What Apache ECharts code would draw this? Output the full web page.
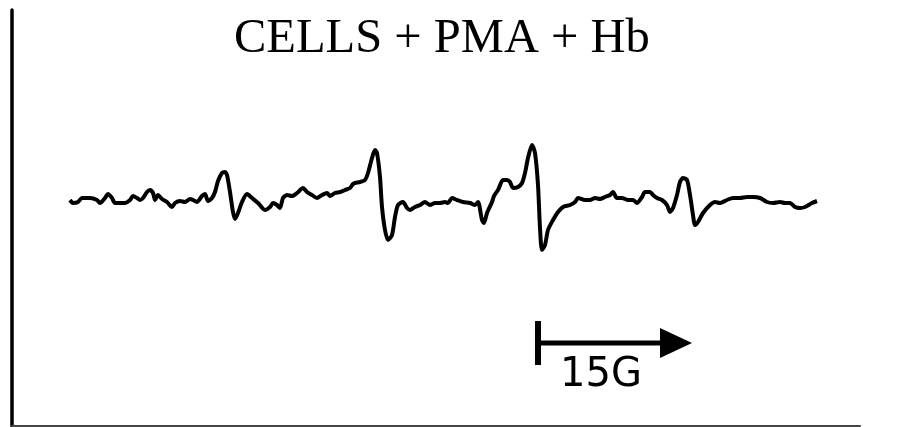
<!DOCTYPE html>
<html>
<head>
<meta charset="utf-8">
<script src="https://cdn.jsdelivr.net/npm/echarts@6/dist/echarts.min.js"></script>
<style>
  html, body { margin: 0; padding: 0; background: #fff; }
  #chart { width: 904px; height: 427px; }
</style>
</head>
<body>
<div id="chart"></div>
<script>
// EPR trace, field offset in gauss and signal in arbitrary units
const fieldG = [
  0, 0.3, 0.8, 1.2, 2.0, 2.7, 3.0, 3.5, 3.8, 4.2, 4.5, 5.0, 5.5, 6.0, 6.3, 6.7, 7.0, 7.3, 7.7, 8.0,
  8.3, 8.5, 8.8, 9.2, 9.7, 10.2, 10.5, 11.0, 11.5, 12.0, 12.3, 12.7, 13.2, 13.5, 13.8, 14.2, 14.5, 14.8, 15.2, 15.5,
  15.7, 16.0, 16.3, 16.5, 16.8, 17.2, 17.7, 18.2, 18.8, 19.5, 20.0, 20.3, 20.7, 21.0, 21.3, 21.7, 22.2, 22.7, 23.3, 23.7,
  24.2, 24.7, 25.2, 25.7, 26.0, 26.5, 27.0, 27.5, 28.0, 28.3, 28.5, 29.0, 29.5, 29.8, 30.2, 30.5, 30.7, 31.0, 31.2, 31.5,
  31.8, 32.2, 32.5, 32.8, 33.3, 33.7, 34.0, 34.5, 35.0, 35.5, 36.0, 36.5, 37.0, 37.5, 37.8, 38.2, 38.7, 39.3, 40.0, 40.5,
  40.8, 41.2, 41.4, 41.7, 42.2, 42.4, 42.8, 43.3, 43.7, 44.0, 44.3, 44.8, 45.2, 45.5, 45.8, 46.2, 46.5, 46.8, 47.0, 47.2,
  47.5, 47.8, 48.3, 48.8, 49.3, 50.0, 50.5, 50.8, 51.5, 52.0, 52.5, 53.0, 53.5, 54.0, 54.3, 54.7, 55.2, 55.8, 56.3, 56.7,
  57.2, 57.5, 58.0, 58.3, 58.7, 59.2, 59.7, 60.0, 60.3, 60.7, 61.0, 61.3, 61.7, 62.0, 62.3, 62.5, 62.8, 63.3, 64.0, 64.5,
  65.0, 65.7, 66.3, 67.0, 67.7, 68.3, 69.0, 69.7, 70.3, 71.0, 71.5, 72.0, 72.5, 73.0, 73.5, 74.2, 74.7
]
const signal = [
  0, -3, -2, 2, 2, 0, -3, 2, 6, 2, -3, -3, -3, 0, 4, 2, 0, 2, 8, 10,
  7, 0, 5, 1, -2, -7, -3, -1, -2, 1, 0, -2, 4, 6, -1, 2, 8, 19, 27, 28,
  25, 8, -12, -19, -13, -2, 6, 2, -3, -10, -7, -3, -5, -8, 2, 5, 4, 7, 12, 8,
  5, 2, 5, 7, 4, 7, 8, 10, 12, 16, 17, 18, 20, 27, 42, 50, 47, 23, -7, -30,
  -40, -35, -17, -5, -2, -8, -10, -7, -5, -2, -5, -3, -3, -2, -3, 2, 0, -2, -3, -5,
  -2, -20, -23, -13, -2, 4, 10, 20, 20, 18, 12, 13, 17, 27, 42, 55, 47, 15, -28, -50,
  -45, -30, -20, -12, -7, -5, -2, 2, 0, 0, 2, 1, 3, 5, 8, 2, 2, 0, 0, -3,
  3, 8, 8, 5, 2, 0, -5, -12, -8, 5, 18, 22, 20, 5, -15, -25, -22, -13, -5, -2,
  -3, 0, 2, 2, 3, 3, 2, -2, -3, -2, -3, -3, -7, -8, -7, -3, -1
]

// 15 G scale bar
const scaleBarField = [46.8, 60.6]
const scaleBarLevel = -143
const scaleBarLabel = '15G'
const titleText = 'CELLS + PMA + Hb'

const chart = echarts.init(document.getElementById('chart'))

chart.setOption({
  animation: false,
  backgroundColor: '#fff',
  title: [
    {
      text: titleText,
      left: 234,
      top: 15,
      padding: 0,
      textStyle: {
        fontFamily: 'Liberation Serif',
        fontWeight: 'normal',
        fontSize: 48.5,
        color: '#000',
      },
    },
    {
      text: scaleBarLabel,
      left: 560,
      top: 356,
      padding: 0,
      textStyle: {
        fontFamily: 'DejaVu Sans',
        fontWeight: 'normal',
        fontSize: 40,
        color: '#000',
      },
    },
  ],
  grid: {
    left: 12,
    right: 44,
    top: 10,
    bottom: 1,
  },
  xAxis: {
    type: 'value',
    min: -5.8,
    max: 79,
    axisLine: {
      show: true,
      onZero: false,
      lineStyle: { color: '#444', width: 2 },
    },
    axisTick: { show: false },
    axisLabel: { show: false },
    splitLine: { show: false },
  },
  yAxis: {
    type: 'value',
    min: -226,
    max: 190,
    axisLine: {
      show: true,
      onZero: false,
      lineStyle: { color: '#000', width: 3.5 },
    },
    axisTick: { show: false },
    axisLabel: { show: false },
    splitLine: { show: false },
  },
  series: [
    {
      type: 'line',
      data: fieldG.map((g, i) => [g, signal[i]]),
      showSymbol: false,
      smooth: 0.25,
      lineStyle: { color: '#000', width: 4 },
    },
    {
      type: 'line',
      data: [
        { value: [scaleBarField[0], scaleBarLevel], symbol: 'rect', symbolSize: [6, 44] },
        { value: [scaleBarField[1], scaleBarLevel], symbol: 'triangle', symbolSize: [30, 32], symbolRotate: -90 },
      ],
      showSymbol: true,
      itemStyle: { color: '#000' },
      lineStyle: { color: '#000', width: 5 },
    },
  ],
})
</script>
</body>
</html>
